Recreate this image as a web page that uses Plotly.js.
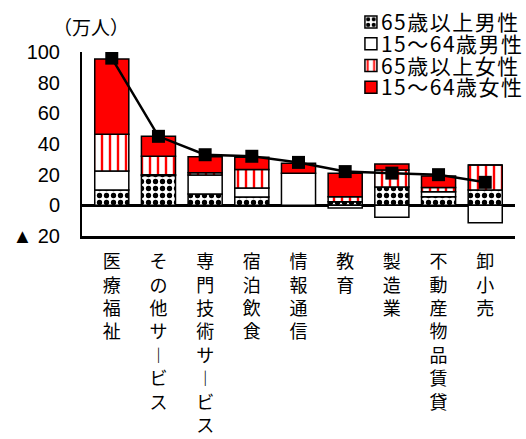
<!DOCTYPE html>
<html>
<head>
<meta charset="utf-8">
<script src="https://cdn.plot.ly/plotly-3.0.1.min.js"></script>
<style>
  html, body { margin: 0; padding: 0; background: #fff; }
  #chart { width: 526px; height: 439px; }
</style>
</head>
<body>
<div id="chart"></div>
<script>
// 産業別の就業者数の増減（万人）
const categories = ['医療福祉', 'その他サービス', '専門技術サービス', '宿泊飲食', '情報通信', '教育', '製造業', '不動産物品賃貸', '卸小売'];

const male65 = [10, 19.5, 7.4, 5.5, 0, 2.4, 12, 5.6, 10];        // 65歳以上男性
const male1564 = [12.4, 0.5, 12.4, 5.8, 21, -1.8, -7.8, 3.3, -11.3]; // 15～64歳男性
const female65 = [24, 12, 1.5, 12, 0, 3.2, 11, 2.8, 16.3];        // 65歳以上女性
const female1564 = [49, 13, 10.4, 8, 6.5, 15.3, 4, 7.4, 0];       // 15～64歳女性
const totals = [96, 45, 33, 32, 28, 22, 21, 20, 15];              // 合計

const yTickVals = [100, 80, 60, 40, 20, 0, -20];
const yTickText = ['100', '80', '60', '40', '20', '0', '▲ 20'];

// 縦書きラベル：1文字ずつ改行し、長音符は縦向きの字形にする
const verticalLabel = s => Array.from(s).map(ch => (ch === 'ー' ? '︱' : ch)).join('<br>');

const JP = '"Noto Sans CJK JP", "Noto Sans", sans-serif';
const LATIN = '"Liberation Sans", Arial, sans-serif';
const outline = { color: '#000', width: 1.5 };

const traces = [
  {
    type: 'bar', name: '65歳以上男性', x: categories, y: male65,
    marker: { color: '#fff', line: outline,
      pattern: { shape: '.', fgcolor: '#000', bgcolor: '#fff', size: 7, solidity: 0.45 } }
  },
  {
    type: 'bar', name: '15～64歳男性', x: categories, y: male1564,
    marker: { color: '#fff', line: outline }
  },
  {
    type: 'bar', name: '65歳以上女性', x: categories, y: female65,
    marker: { color: '#fff', line: outline,
      pattern: { shape: '|', fgcolor: '#ff0000', bgcolor: '#fff', size: 8, solidity: 0.3 } }
  },
  {
    type: 'bar', name: '15～64歳女性', x: categories, y: female1564,
    marker: { color: '#ff0000', line: outline }
  },
  {
    type: 'scatter', mode: 'lines+markers', name: '合計', x: categories, y: totals,
    showlegend: false,
    line: { color: '#000', width: 2.5 },
    marker: { symbol: 'square', size: 13, color: '#000' }
  }
];

const layout = {
  width: 526,
  height: 439,
  margin: { l: 82, r: 11, t: 52, b: 203, autoexpand: false },
  paper_bgcolor: '#fff',
  plot_bgcolor: '#fff',
  barmode: 'relative',
  bargap: 0.27,
  showlegend: true,
  legend: {
    x: 0.598, xanchor: 'left',
    y: 1.272, yanchor: 'top',
    traceorder: 'normal',
    bgcolor: 'rgba(0,0,0,0)',
    font: { family: JP, size: 21, color: '#000' }
  },
  xaxis: {
    type: 'category',
    tickmode: 'array',
    tickvals: categories,
    ticktext: categories.map(verticalLabel),
    tickangle: 0,
    ticks: '',
    ticklabelstandoff: 8,
    tickfont: { family: JP, size: 18, color: '#000' },
    showline: true, linecolor: '#000', linewidth: 2.5,
    showgrid: false, zeroline: false,
    fixedrange: true
  },
  yaxis: {
    range: [-20, 100],
    tickmode: 'array',
    tickvals: yTickVals,
    ticktext: yTickText,
    ticks: '',
    ticklabelstandoff: 16,
    tickfont: { family: LATIN, size: 20, color: '#000' },
    showline: true, linecolor: '#000', linewidth: 2,
    showgrid: false,
    zeroline: true, zerolinecolor: '#000', zerolinewidth: 3,
    fixedrange: true
  },
  annotations: [
    {
      text: '（万人）', xref: 'paper', yref: 'paper',
      x: 0.021, y: 1.141, xanchor: 'center', yanchor: 'middle',
      showarrow: false,
      font: { family: JP, size: 19, color: '#000' }
    }
  ]
};

// 凡例を詰めて並べる：行間を狭め、記号を文字に寄せ、文字間を少し広げる
function tightenLegend(gd) {
  const rowPitch = 21.7;
  const legend = gd.querySelector('.legend');
  if (!legend) return;
  // 文字間を広げた分が切れないよう、凡例のクリップを外す
  legend.querySelectorAll('[clip-path]').forEach(el => el.removeAttribute('clip-path'));
  const items = legend.querySelectorAll('.traces');
  let y0 = null;
  items.forEach((g, i) => {
    const m = /translate\(\s*([-\d.]+)[ ,]+([-\d.]+)\s*\)/.exec(g.getAttribute('transform') || '');
    if (!m) return;
    const x = parseFloat(m[1]);
    if (y0 === null) y0 = parseFloat(m[2]);
    g.setAttribute('transform', `translate(${x},${y0 + i * rowPitch})`);
    const sym = g.querySelector('.legendsymbols');
    if (sym) sym.setAttribute('transform', 'translate(10,0)');
    const txt = g.querySelector('text.legendtext');
    if (txt) txt.style.letterSpacing = '1.5px';
  });
}

Plotly.newPlot('chart', traces, layout, { staticPlot: true, displayModeBar: false })
  .then(gd => tightenLegend(gd));
</script>
</body>
</html>
